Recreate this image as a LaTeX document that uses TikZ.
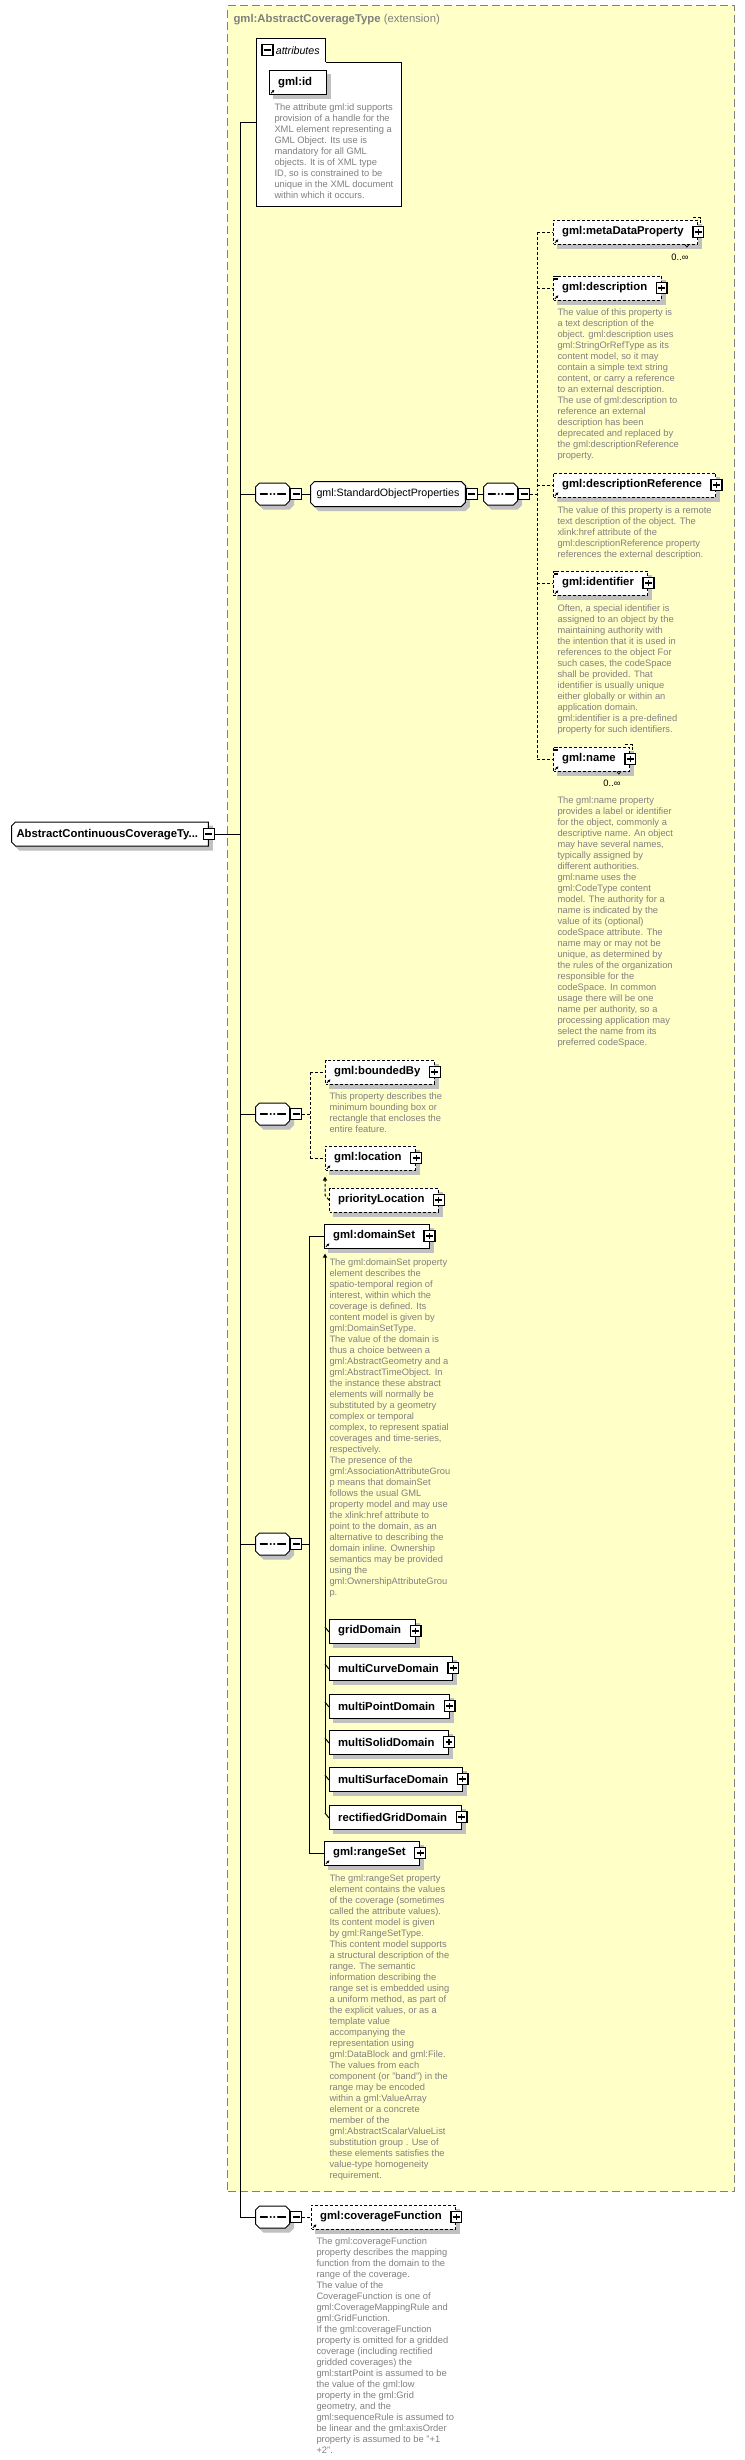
\documentclass[tikz,border=0pt]{standalone}
\usepackage{fontspec}
\setmainfont{Liberation Sans}
\usetikzlibrary{shapes.misc,arrows.meta}

\definecolor{extfill}{RGB}{255,255,200}
\definecolor{extline}{RGB}{128,128,128}
\definecolor{docgray}{RGB}{128,128,128}
\definecolor{shadowgray}{RGB}{192,192,192}

\tikzset{
  boxshadow/.style={preaction={fill=shadowgray, draw=shadowgray, solid,
    transform canvas={xshift=3pt,yshift=-3pt}}},
  elem/.style={draw, fill=white, boxshadow, anchor=west, minimum height=18pt,
    inner xsep=6.5pt, inner ysep=0pt, font=\fontsize{8.5}{10}\selectfont\bfseries,
    execute at end node={\hspace{4pt}}},
  optelem/.style={elem, dash pattern=on 2.2pt off 1.5pt},
  dline/.style={dash pattern=on 2.2pt off 1.5pt},
  pbox/.style={draw, fill=white, line width=1.1pt, minimum size=8pt, inner sep=0pt,
    path picture={\draw[line width=0.8pt]
      ([xshift=-2.6pt]path picture bounding box.center) -- ([xshift=2.6pt]path picture bounding box.center)
      ([yshift=-2.6pt]path picture bounding box.center) -- ([yshift=2.6pt]path picture bounding box.center);}},
  mbox/.style={draw, fill=white, line width=1.1pt, minimum size=8pt, inner sep=0pt, anchor=west,
    path picture={\draw[line width=0.8pt]
      ([xshift=-2.6pt]path picture bounding box.center) -- ([xshift=2.6pt]path picture bounding box.center);}},
  seqnode/.style={chamfered rectangle, chamfered rectangle sep=1.5pt, draw, fill=white, boxshadow,
    anchor=west, inner xsep=11.25pt, inner ysep=6.75pt,
    path picture={
      \draw[line width=1pt] ([xshift=3pt]path picture bounding box.west) -- ([xshift=-3pt]path picture bounding box.east);
      \foreach \d in {-2.7pt,0pt,2.7pt}
        \fill ([xshift=\d]path picture bounding box.center) circle[radius=1.1pt];}},
  grpnode/.style={chamfered rectangle, chamfered rectangle sep=1.5pt, draw, fill=white, boxshadow,
    anchor=west, text height=6pt, text depth=1.75pt, inner xsep=3pt, inner ysep=4pt,
    font=\fontsize{8}{10}\selectfont},
  rootnode/.style={chamfered rectangle, chamfered rectangle corners={north west,south west},
    chamfered rectangle sep=1.5pt, draw, fill=white, boxshadow, anchor=west,
    text height=6.5pt, text depth=2pt, inner xsep=2.25pt, inner ysep=3.25pt,
    font=\fontsize{8.5}{10}\selectfont\bfseries, execute at end node={\hspace{4pt}}},
  desc/.style={anchor=north west, align=left, inner sep=0pt, text=docgray,
    font=\fontsize{7}{8.25}\selectfont},
  occ/.style={font=\fontsize{7}{8}\selectfont, inner sep=0pt}
}

\newcommand\xrefmark[1]{\draw[line width=0.6pt,-{Latex[length=2pt,width=2.2pt]}]
  ([xshift=1.5pt,yshift=1.3pt]#1.south west) -- ++(2.6pt,2.6pt);}
\newcommand\xdocmark[1]{\foreach \k in {0.9,1.9,2.9}
  \draw[line width=0.45pt] ([xshift=0.6pt,yshift=-\k*1pt]#1.north west) -- ++(3.2pt,0pt);}
\newcommand\xmultimark[1]{%
  \draw[dline, line width=0.6pt] ([xshift=-4pt,yshift=1.5pt]#1.north east) -- ([xshift=1.5pt,yshift=1.5pt]#1.north east)
    -- ([xshift=1.5pt,yshift=-4pt]#1.north east);
  \draw[line width=0.5pt] ([xshift=-10pt]#1.south east) -- ++(1.5pt,-2pt) -- ++(1.5pt,2pt);}

\begin{document}
\begin{tikzpicture}[x=0.75pt, y=-0.75pt, line width=0.75pt]
\useasboundingbox (0,0) rectangle (745,2460);

% 扩展区域
\node[draw=extline, fill=extfill, line width=1.1pt, dash pattern=on 6pt off 3pt,
  anchor=north west, minimum width=380.25pt, minimum height=1639.5pt, inner sep=0pt] (ext) at (227,5) {};
\node[anchor=west, inner sep=0pt, text=docgray, font=\fontsize{8.5}{10}\selectfont] (ttl) at (233,20)
  {\textbf{gml:AbstractCoverageType} (extension)};

% 根元素和主线
\node[rootnode] (main) at (11,834) {AbstractContinuousCoverageTy...};
\node[mbox, anchor=center] (mainm) at (main.east) {};
\coordinate (top) at (240,122);
\coordinate (bot) at (240,2217);
\draw (top) -- (bot);
\draw (mainm.east) -- (mainm.east -| top);

% attributes
\node[draw, fill=white, anchor=north west, minimum width=108.75pt, minimum height=108pt, inner sep=0pt] (attr) at (256,62) {};
\node[draw, fill=white, anchor=north west, minimum height=18pt, inner xsep=4.5pt, inner ysep=0pt,
  font=\fontsize{8}{10}\selectfont\itshape, execute at begin node={\hspace{10pt}}] (attrtab) at (256,38) {attributes};
\draw[white, line width=1.3pt] ([xshift=0.4pt]attrtab.south west) -- ([xshift=-0.4pt]attrtab.south east);
\node[mbox, anchor=center] (attrm) at (267.5,50) {};
\draw (top) -- (top -| attr.west);
\node[elem] (gmlid) at (269,82.5) {gml:id};
\xrefmark{gmlid}
\node[desc] (dId) at (274,103) {The attribute gml:id supports\\provision of a handle for the\\XML element representing a\\GML Object. Its use is\\mandatory for all GML\\objects. It is of XML type\\ID, so is constrained to be\\unique in the XML document\\within which it occurs.};

% StandardObjectProperties
\node[seqnode] (s1) at (255,494) {};
\node[mbox] (s1m) at (s1.east) {};
\node[grpnode] (sop) at (310,494) {gml:StandardObjectProperties};
\node[mbox] (sopm) at (sop.east) {};
\node[seqnode] (s2) at (483,494) {};
\node[mbox] (s2m) at (s2.east) {};
\draw (s1.west -| top) -- (s1.west);
\draw (s1m.east) -- (sop.west);
\draw (sopm.east) -- (s2.west);

\node[optelem] (meta) at (553,232) {gml:metaDataProperty};
\node[occ] (metaocc) at (680,257) {0..∞};
\node[optelem] (desc) at (553,288) {gml:description};
\node[desc] (dDesc) at (557,308) {The value of this property is\\a text description of the\\object. gml:description uses\\gml:StringOrRefType as its\\content model, so it may\\contain a simple text string\\content, or carry a reference\\to an external description.\\The use of gml:description to\\reference an external\\description has been\\deprecated and replaced by\\the gml:descriptionReference\\property.};
\node[optelem] (descref) at (553,485) {gml:descriptionReference};
\node[desc] (dDescRef) at (557,506) {The value of this property is a remote\\text description of the object. The\\xlink:href attribute of the\\gml:descriptionReference property\\references the external description.};
\node[optelem] (ident) at (553,583) {gml:identifier};
\node[desc] (dIdent) at (557,604) {Often, a special identifier is\\assigned to an object by the\\maintaining authority with\\the intention that it is used in\\references to the object For\\such cases, the codeSpace\\shall be provided. That\\identifier is usually unique\\either globally or within an\\application domain.\\gml:identifier is a pre-defined\\property for such identifiers.};
\node[optelem] (name) at (553,759) {gml:name};
\node[occ] (nameocc) at (612,783) {0..∞};
\node[desc] (dName) at (557,796) {The gml:name property\\provides a label or identifier\\for the object, commonly a\\descriptive name. An object\\may have several names,\\typically assigned by\\different authorities.\\gml:name uses the\\gml:CodeType content\\model.  The authority for a\\name is indicated by the\\value of its (optional)\\codeSpace attribute.  The\\name may or may not be\\unique, as determined by\\the rules of the organization\\responsible for the\\codeSpace.  In common\\usage there will be one\\name per authority, so a\\processing application may\\select the name from its\\preferred codeSpace.};

\coordinate (ja) at (537,494);
\draw[dline] (s2m.east) -- (ja);
\draw[dline] (meta.west -| ja) -- (name.west -| ja);
\foreach \e in {meta,desc,descref,ident,name} {
  \draw[dline] (\e.west -| ja) -- (\e.west);
  \node[pbox] (\e-p) at (\e.east) {};
  \xrefmark{\e}
}
\foreach \e in {desc,ident,name} {\xdocmark{\e}}
\foreach \e in {meta,name} {\xmultimark{\e}}

% boundedBy / location
\node[seqnode] (sb) at (255,1114) {};
\node[mbox] (sbm) at (sb.east) {};
\draw (sb.west -| top) -- (sb.west);
\node[optelem] (bounded) at (325,1072) {gml:boundedBy};
\node[desc] (dBounded) at (329,1092) {This property describes the\\minimum bounding box or\\rectangle that encloses the\\entire feature.};
\node[optelem] (loc) at (325,1158) {gml:location};
\node[optelem] (ploc) at (329,1200) {priorityLocation};
\coordinate (jb) at (310,1114);
\draw[dline] (sbm.east) -- (jb);
\draw[dline] (bounded.west -| jb) -- (loc.west -| jb);
\foreach \e in {bounded,loc} {
  \draw[dline] (\e.west -| jb) -- (\e.west);
  \xrefmark{\e}
}
\foreach \e in {bounded,loc,ploc} {\node[pbox] (\e-p) at (\e.east) {};}
\draw[dline,-{Triangle[length=3pt,width=3pt]}] (ploc.west) -- ([yshift=3.5pt]ploc.west -| loc.west) -- ([yshift=-4.5pt]loc.south west);

% domainSet / rangeSet
\node[seqnode] (sd) at (255,1544) {};
\node[mbox] (sdm) at (sd.east) {};
\draw (sd.west -| top) -- (sd.west);
\node[elem] (domain) at (324,1236) {gml:domainSet};
\node[desc] (dDomain) at (329,1258) {The gml:domainSet property\\element describes the\\spatio-temporal region of\\interest, within which the\\coverage is defined. Its\\content model is given by\\gml:DomainSetType.\\The value of the domain is\\thus a choice between a\\gml:AbstractGeometry and a\\gml:AbstractTimeObject.  In\\the instance these abstract\\elements will normally be\\substituted by a geometry\\complex or temporal\\complex, to represent spatial\\coverages and time-series,\\respectively.\\The presence of the\\gml:AssociationAttributeGrou\\p means that domainSet\\follows the usual GML\\property model and may use\\the xlink:href attribute to\\point to the domain, as an\\alternative to describing the\\domain inline. Ownership\\semantics may be provided\\using the\\gml:OwnershipAttributeGrou\\p.};
\node[elem] (grid) at (329,1631) {gridDomain};
\node[elem] (mcurve) at (329,1668) {multiCurveDomain};
\node[elem] (mpoint) at (329,1706) {multiPointDomain};
\node[elem] (msolid) at (329,1742) {multiSolidDomain};
\node[elem] (msurf) at (329,1779) {multiSurfaceDomain};
\node[elem] (rgrid) at (329,1817) {rectifiedGridDomain};
\coordinate (subtop) at ([xshift=0.75pt,yshift=-3.75pt]domain.south west);
\draw[-{Triangle[length=3pt,width=3pt]}] ([yshift=3pt]rgrid.west -| subtop) -- (subtop);
\foreach \e in {grid,mcurve,mpoint,msolid,msurf,rgrid} {
  \draw ([yshift=3pt]\e.west -| subtop) -- ([yshift=-0.75pt]\e.west);
  \node[pbox] (\e-p) at (\e.east) {};
}
\node[elem] (range) at (324,1853) {gml:rangeSet};
\node[desc] (dRange) at (329,1874) {The gml:rangeSet property\\element contains the values\\of the coverage (sometimes\\called the attribute values).\\Its content model is given\\by gml:RangeSetType.\\This content model supports\\a structural description of the\\range.  The semantic\\information describing the\\range set is embedded using\\a uniform method, as part of\\the explicit values, or as a\\template value\\accompanying the\\representation using\\gml:DataBlock and gml:File.\\The values from each\\component (or "band") in the\\range may be encoded\\within a gml:ValueArray\\element or a concrete\\member of the\\gml:AbstractScalarValueList\\substitution group . Use of\\these elements satisfies the\\value-type homogeneity\\requirement.};
\coordinate (jd) at (309,1544);
\draw (sdm.east) -- (jd);
\draw (domain.west -| jd) -- (range.west -| jd);
\foreach \e in {domain,range} {
  \draw (\e.west -| jd) -- (\e.west);
  \node[pbox] (\e-p) at (\e.east) {};
  \xrefmark{\e}
}

% coverageFunction
\node[seqnode] (sc) at (255,2217) {};
\node[mbox] (scm) at (sc.east) {};
\draw (sc.west -| top) -- (sc.west);
\node[optelem] (covfn) at (311,2217) {gml:coverageFunction};
\node[pbox] (covfn-p) at (covfn.east) {};
\xrefmark{covfn}
\draw[dline] (scm.east) -- (covfn.west);
\node[desc] (dCovFn) at (316,2237) {The gml:coverageFunction\\property describes the mapping\\function from the domain to the\\range of the coverage.\\The value of the\\CoverageFunction is one of\\gml:CoverageMappingRule and\\gml:GridFunction.\\If the gml:coverageFunction\\property is omitted for a gridded\\coverage (including rectified\\gridded coverages) the\\gml:startPoint is assumed to be\\the value of the gml:low\\property in the gml:Grid\\geometry, and the\\gml:sequenceRule is assumed to\\be linear and the gml:axisOrder\\property is assumed to be "+1\\+2".};
\end{tikzpicture}
\end{document}
